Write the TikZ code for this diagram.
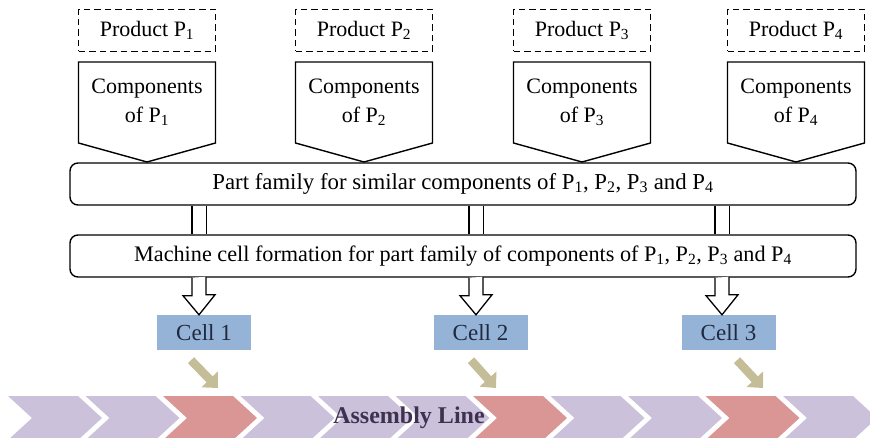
\documentclass[tikz,border=0pt]{standalone}
\usepackage{fontspec}
\setmainfont{Liberation Serif}
\usetikzlibrary{arrows.meta, positioning, calc}
\definecolor{cellblue}{HTML}{95B3D7}
\definecolor{feedtan}{HTML}{C4BD97}
\definecolor{linelav}{HTML}{CCC1DA}
\definecolor{linered}{HTML}{D99694}
\definecolor{linetext}{HTML}{3F3151}
\definecolor{celltext}{HTML}{1F2A3F}

\begin{document}
\begin{tikzpicture}[x=1pt, y=-1pt, every node/.style={font=\fontsize{22}{29}\selectfont},
		prodbox/.style={draw, dash pattern=on 6.5pt off 4pt, line width=1.6pt, minimum width=137pt, minimum height=42pt},
		compline/.style={draw, line width=1.4pt, line join=miter},
		stagebox/.style={draw, rounded corners=8pt, line width=1.4pt, minimum width=786pt, minimum height=42pt, font=\fontsize{22.8}{26}\selectfont},
		cellbox/.style={fill=cellblue, minimum width=94pt, minimum height=35pt, text=celltext, font=\fontsize{23}{26}\selectfont},
		linkline/.style={line width=1.3pt, double, double distance=13pt},
		hollow/.style={line width=1.3pt, line join=miter, fill=white},
		feed/.style={line width=8.5pt, color=feedtan, -{Triangle[width=22pt, length=12pt]}}]
				\useasboundingbox (0,0) rectangle (870,438);

				% Products and their components
				\foreach \i/\x in {1/147, 2/364, 3/582, 4/796} {
					\node[prodbox] (prod\i) at (\x,30.5) {Product P\textsubscript{\i}};
					\draw[compline] (\x-68.5,62) -- (\x+68.5,62) -- (\x+68.5,143) -- (\x,162) -- (\x-68.5,143) -- cycle;
					\node[align=center] (comp\i) at (\x,102) {Components\\of P\textsubscript{\i}};
				}

				% Part family and machine cells
				\node[stagebox] (fam) at (463,184) {Part family for similar components of P\textsubscript{1}, P\textsubscript{2}, P\textsubscript{3} and P\textsubscript{4}};
				\node[stagebox, font=\fontsize{22.2}{26}\selectfont] (mach) at (463,256) {Machine cell formation for part family of components of P\textsubscript{1}, P\textsubscript{2}, P\textsubscript{3} and P\textsubscript{4}};

				% Cells
				\node[cellbox] (cell1) at (204,332.5) {Cell 1};
				\node[cellbox] (cell2) at (480.5,332.5) {Cell 2};
				\node[cellbox] (cell3) at (728.5,332.5) {Cell 3};

				% links between the stages
				\coordinate (lk1) at (199,0);
				\coordinate (lk2) at (476,0);
				\coordinate (lk3) at (722,0);
				\foreach \i in {1,2,3} {
					\draw[linkline] (fam.south -| lk\i) -- (mach.north -| lk\i);
					\draw[hollow] (mach.south -| lk\i) ++(-7,0) -- ++(0,18) -- ++(-9,0) -- (cell\i.north -| lk\i) -- ++(16,-20) -- ++(-9,0) -- ++(0,-18);
				}

				% Assembly line
				\foreach \i/\c in {0/linelav, 1/linelav, 2/linered, 3/linelav, 4/linelav, 5/linelav, 6/linered, 7/linelav, 8/linelav, 9/linered, 10/linelav} {
					\fill[\c] (8+77.5*\i,396) -- ++(70,0) -- ++(24,22) -- ++(-24,22) -- ++(-70,0) -- ++(24,-22) -- cycle;
				}
				\node[font=\fontsize{24}{28}\selectfont\bfseries, text=linetext] (line) at (409,418) {Assembly Line};

				% cells feed the line
				\coordinate (in1) at (218,388);
				\coordinate (in2) at (496,388);
				\coordinate (in3) at (763,388);
				\draw[feed] ([shift={(-13,10)}]cell1.south) -- (in1);
				\draw[feed] ([shift={(-9.5,10)}]cell2.south) -- (in2);
				\draw[feed] ([shift={(8.5,10)}]cell3.south) -- (in3);
			\end{tikzpicture}
\end{document}
